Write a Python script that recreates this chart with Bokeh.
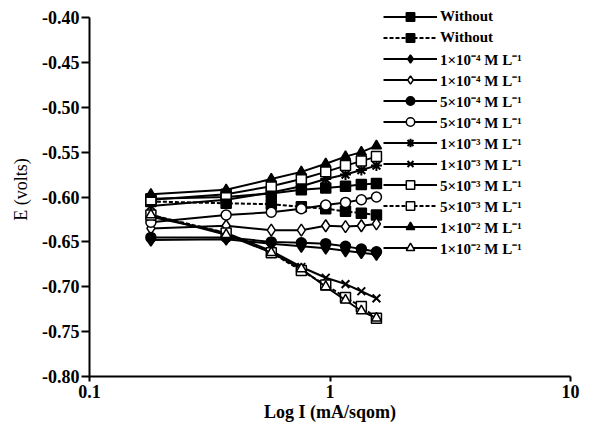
from bokeh.plotting import figure
from bokeh.models import Range1d, FixedTicker, CustomJSTickFormatter, Legend, LegendItem
from bokeh.embed import file_html
from bokeh.resources import INLINE

# current density (mA/sqcm) and potentials (V)
x_vals = [0.18, 0.37, 0.57, 0.76, 0.96, 1.16, 1.35, 1.56]

without_a = [-0.602, -0.600, -0.596, -0.592, -0.590, -0.588, -0.586, -0.585]
without_c = [-0.605, -0.607, -0.608, -0.611, -0.613, -0.616, -0.618, -0.620]
c1e4_c = [-0.648, -0.647, -0.652, -0.655, -0.657, -0.660, -0.662, -0.664]
c1e4_a = [-0.635, -0.632, -0.637, -0.637, -0.632, -0.633, -0.632, -0.630]
c5e4_c = [-0.645, -0.645, -0.650, -0.651, -0.652, -0.655, -0.658, -0.661]
c5e4_a = [-0.628, -0.620, -0.617, -0.613, -0.609, -0.606, -0.603, -0.600]
c1e3_a = [-0.610, -0.603, -0.595, -0.588, -0.580, -0.575, -0.570, -0.565]
c1e3_c = [-0.622, -0.640, -0.660, -0.678, -0.690, -0.697, -0.705, -0.713]
c5e3_a = [-0.603, -0.597, -0.588, -0.580, -0.572, -0.565, -0.560, -0.555]
c5e3_c = [-0.620, -0.640, -0.662, -0.682, -0.698, -0.712, -0.722, -0.735]
c1e2_a = [-0.597, -0.592, -0.580, -0.572, -0.563, -0.555, -0.550, -0.543]
c1e2_c = [-0.620, -0.642, -0.662, -0.680, -0.700, -0.715, -0.727, -0.735]

labels = ["Without", "Without",
          "1×10⁻⁴ M L⁻¹", "1×10⁻⁴ M L⁻¹",
          "5×10⁻⁴ M L⁻¹", "5×10⁻⁴ M L⁻¹",
          "1×10⁻³ M L⁻¹", "1×10⁻³ M L⁻¹",
          "5×10⁻³ M L⁻¹", "5×10⁻³ M L⁻¹",
          "1×10⁻² M L⁻¹", "1×10⁻² M L⁻¹"]
series = [without_a, without_c, c1e4_c, c1e4_a, c5e4_c, c5e4_a,
          c1e3_a, c1e3_c, c5e3_a, c5e3_c, c1e2_a, c1e2_c]
markers = ["square", "square", "diamond", "diamond", "circle", "circle",
           "asterisk", "x", "square", "square", "triangle", "triangle"]
filled = [True, True, True, False, True, False, True, True, False, False, True, False]
dashed = [False, True, False, False, False, False, False, False, False, True, False, False]

x_ticks = [0.1, 1, 10]
y_ticks = [-0.80, -0.75, -0.70, -0.65, -0.60, -0.55, -0.50, -0.45, -0.40]

p = figure(width=597, height=428, x_axis_type="log",
           x_range=Range1d(0.1, 10), y_range=Range1d(-0.80, -0.40 + 15 * 0.40 / 359),
           output_backend="svg", toolbar_location=None,
           min_border_left=89, min_border_right=27,
           min_border_top=2, min_border_bottom=52)

p.outline_line_color = None
p.xgrid.visible = False
p.ygrid.visible = False
p.background_fill_color = "white"
p.border_fill_color = "white"

items = []
for lab, ys, mk, fl, ds in zip(labels, series, markers, filled, dashed):
    ln = p.line(x_vals, ys, line_color="black", line_width=2,
                line_dash="4 2" if ds else "solid")
    size = 11 if mk in ("asterisk", "x") else (10 if mk != "diamond" else 12)
    sc = p.scatter(x_vals, ys, marker=mk, size=size, line_color="black",
                   line_width=2 if mk in ("asterisk", "x") else 1.5,
                   fill_color="black" if fl else "white")
    items.append(LegendItem(label=lab, renderers=[ln, sc]))

legend = Legend(items=items, location=(294, 118),
                glyph_width=54, glyph_height=21, label_height=21,
                spacing=0, padding=0, margin=0, label_standoff=3,
                label_text_font="Liberation Serif", label_text_font_size="15px",
                label_text_font_style="bold",
                label_text_color="black",
                border_line_color=None, background_fill_alpha=0)
p.add_layout(legend, "center")

xa = p.xaxis[0]
xa.ticker = FixedTicker(ticks=x_ticks, minor_ticks=[])
xa.formatter = CustomJSTickFormatter(code="return tick.toString();")
xa.axis_label = "Log I (mA/sqom)"
ya = p.yaxis[0]
ya.ticker = FixedTicker(ticks=y_ticks)
ya.formatter = CustomJSTickFormatter(code="return tick.toFixed(2);")
ya.axis_label = "E (volts)"
ya.bounds = (-0.80, -0.40)

for ax in (xa, ya):
    ax.axis_line_width = 2
    ax.axis_line_color = "black"
    ax.major_tick_line_width = 2
    ax.major_tick_line_color = "black"
    ax.minor_tick_line_color = None
    ax.major_tick_in = 0
    ax.major_label_text_font = "Liberation Serif"
    ax.major_label_text_font_size = "18px"
    ax.major_label_text_font_style = "bold"
    ax.major_label_text_color = "black"
    ax.axis_label_text_font = "Liberation Serif"
    ax.axis_label_text_font_size = "18px"
    ax.axis_label_text_color = "black"

xa.axis_label_text_font_style = "bold"
ya.axis_label_text_font_style = "normal"
ya.major_tick_out = 8
ya.major_label_standoff = 2
ya.axis_label_standoff = 8
xa.major_tick_out = 5
xa.major_label_standoff = 3
xa.axis_label_standoff = 1

open("out.html", "w").write(file_html(p, INLINE))
